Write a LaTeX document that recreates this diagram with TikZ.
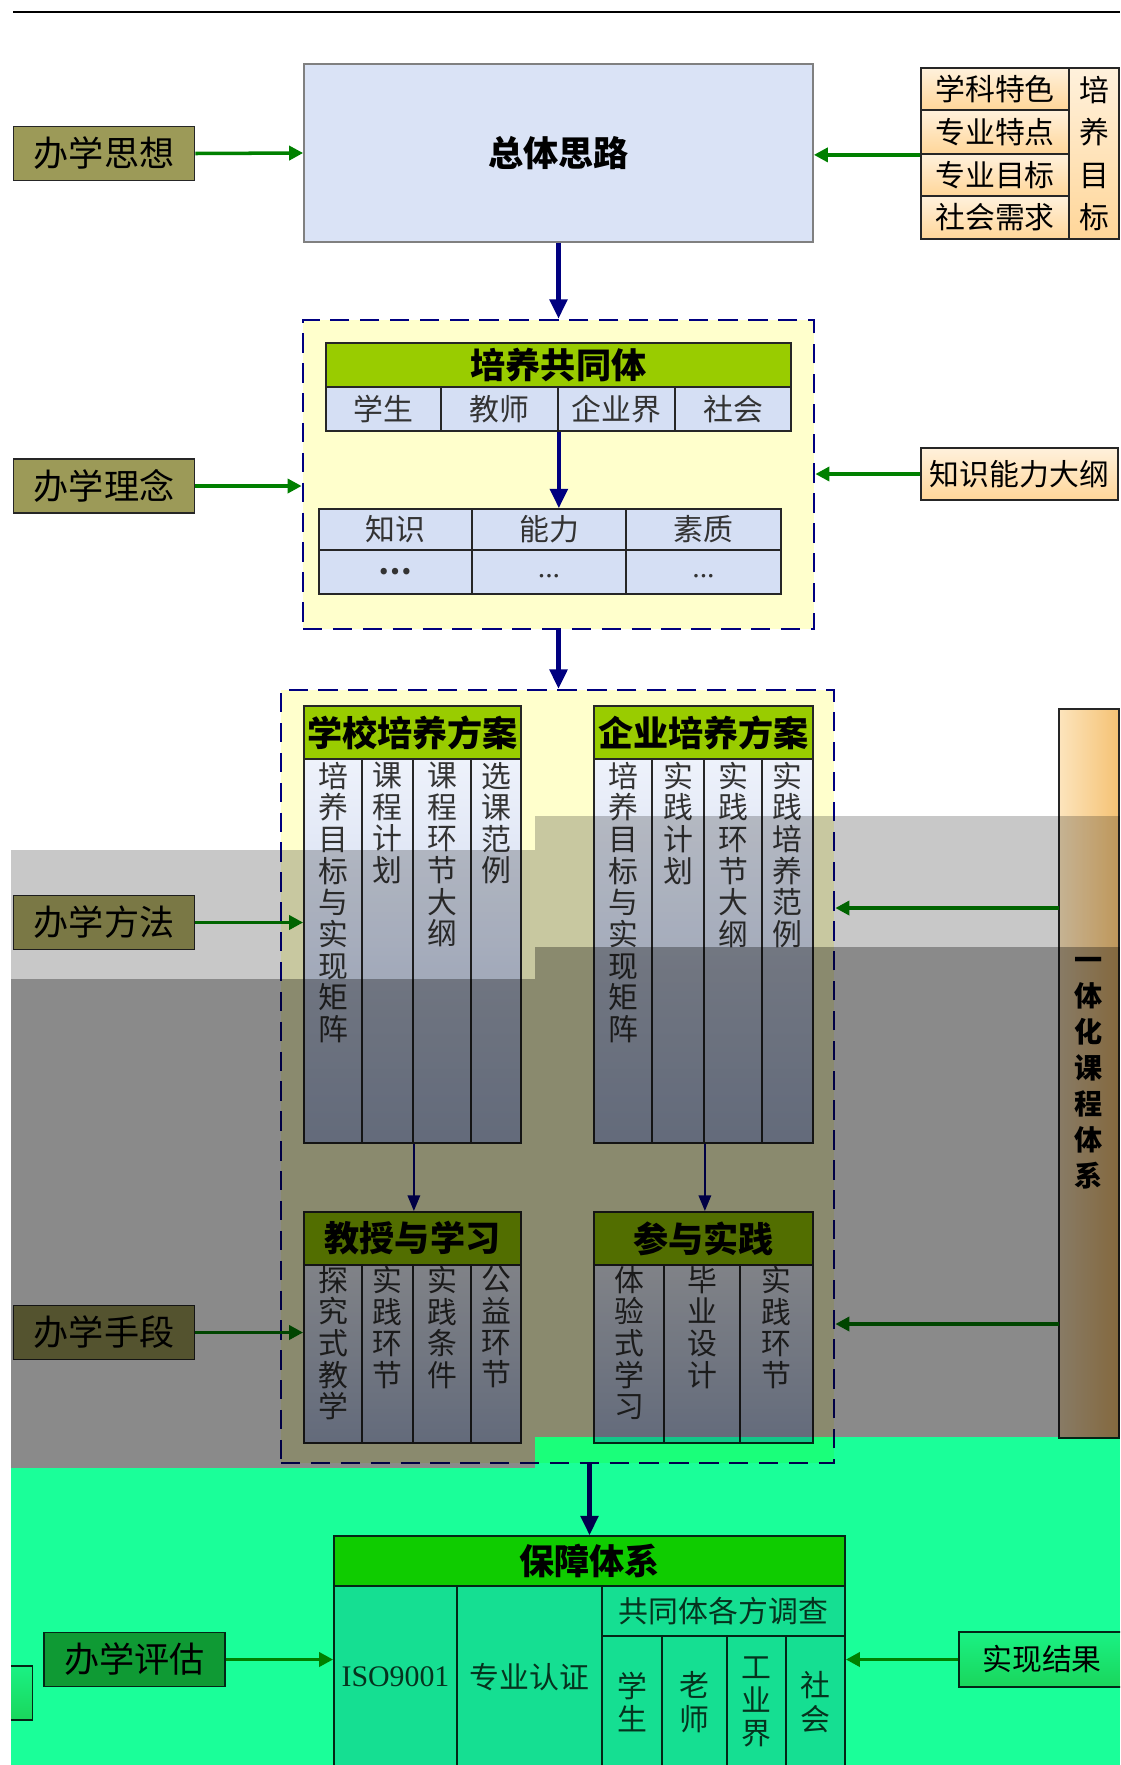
\documentclass[tikz,border=0pt]{standalone}
\usepackage{fontspec}
\setmainfont{Noto Sans CJK SC}
\newfontfamily\latinserif{Liberation Serif}
\usetikzlibrary{arrows.meta}
\XeTeXlinebreaklocale "zh"
\XeTeXlinebreakskip=0pt plus 1pt
\definecolor{olivebox}{HTML}{9C9A58}
\definecolor{topblue}{HTML}{DAE3F6}
\definecolor{cellblue}{HTML}{D5DFF4}
\definecolor{colhi}{HTML}{EEF2FB}
\definecolor{collo}{HTML}{B8C6E4}
\definecolor{hdgreen}{HTML}{99CC00}
\definecolor{paleyellow}{HTML}{FFFFCC}
\definecolor{peachhi}{HTML}{FFF1DC}
\definecolor{peachlo}{HTML}{FFD699}
\definecolor{talll}{HTML}{FCE4BC}
\definecolor{tallr}{HTML}{F5C274}
\definecolor{navyline}{HTML}{000080}
\definecolor{arrowgreen}{HTML}{008000}
\definecolor{bandlight}{RGB}{200,200,200}
\definecolor{banddark}{RGB}{138,138,138}
\definecolor{bandgreen}{RGB}{26,255,153}
\begin{document}
\begin{tikzpicture}[x=0.02cm,y=-0.02cm,
  box/.style={draw=black!85,line width=1pt,inner sep=0pt,align=center},
  side/.style={box,fill=olivebox,minimum width=3.62cm,minimum height=1.08cm,font=\fontsize{20}{22}\selectfont},
  hd/.style={box,fill=hdgreen,font=\bfseries\fontsize{20}{22}\selectfont},
  cell/.style={box,fill=cellblue,text=black!80,font=\fontsize{17}{19}\selectfont},
  col/.style={box,top color=colhi,bottom color=collo},
  vt/.style={text width=21pt,align=center,inner sep=0pt,text=black!80,font=\fontsize{17}{18}\selectfont},
  peach/.style={box,top color=peachhi,bottom color=peachlo,font=\fontsize{17}{19}\selectfont},
  dbox/.style={draw=navyline,line width=1.6pt,dash pattern=on 11pt off 6pt,fill=paleyellow},
  garrow/.style={draw=arrowgreen,line width=2pt,-{Triangle[length=8pt,width=8pt]}},
  barrow/.style={draw=navyline,line width=2.4pt,-{Triangle[length=11pt,width=10pt]}},
  sarrow/.style={draw=navyline,line width=1.4pt,-{Triangle[length=9pt,width=7pt]}}]
\useasboundingbox (0,0) rectangle (1120,1765);
\clip (0,0) rectangle (1120,1765);
% left side boxes
\node[side] (sx) at (104,153.5) {办学思想};
\node[side] (ln) at (104,486) {办学理念};
\node[side] (ff) at (104,922.5) {办学方法};
\node[side] (sd) at (104,1332.5) {办学手段};
\node[side] (pg) at (134.5,1659.5) {办学评估};
% overall idea
\node[box,draw=gray,fill=topblue,minimum width=10.18cm,minimum height=3.56cm,font=\bfseries\fontsize{20}{22}\selectfont] (zt) at (558.5,153) {总体思路};
\node[peach,minimum width=2.96cm,minimum height=0.84cm] (r1) at (995,89) {学科特色};
\node[peach,minimum width=2.96cm,minimum height=0.88cm] (r2) at (995,132) {专业特点};
\node[peach,minimum width=2.96cm,minimum height=0.84cm] (r3) at (995,175) {专业目标};
\node[peach,minimum width=2.96cm,minimum height=0.86cm] (r4) at (995,217.5) {社会需求};
\node[peach,minimum width=1cm,minimum height=3.42cm,text width=21pt,font=\fontsize{17}{24}\selectfont] (mb) at (1094,153.5) {培养目标};
\draw[garrow] (sx.east) -- (zt.west);
\draw[garrow] (r2.south west) -- (zt.east |- r2.south west);
% training community
\node[dbox,minimum width=10.22cm,minimum height=6.18cm] (db1) at (558.5,474.5) {};
\draw[barrow] (zt.south) -- (db1.north);
\node[hd,minimum width=9.3cm,minimum height=0.88cm] (gt) at (558.5,365) {培养共同体};
\node[cell,minimum width=2.3cm,minimum height=0.88cm] (g1) at (383.5,409) {学生};
\node[cell,minimum width=2.34cm,minimum height=0.88cm] (g2) at (499.5,409) {教师};
\node[cell,minimum width=2.34cm,minimum height=0.88cm] (g3) at (616.5,409) {企业界};
\node[cell,minimum width=2.32cm,minimum height=0.88cm] (g4) at (733,409) {社会};
\node[cell,minimum width=3.06cm,minimum height=0.82cm] (k1) at (395.5,529.5) {知识};
\node[cell,minimum width=3.08cm,minimum height=0.82cm] (k2) at (549,529.5) {能力};
\node[cell,minimum width=3.1cm,minimum height=0.82cm] (k3) at (703.5,529.5) {素质};
\node[cell,minimum width=3.06cm,minimum height=0.88cm] (e1) at (395.5,572) {{\bfseries …}};
\node[cell,minimum width=3.08cm,minimum height=0.88cm] (e2) at (549,572) {\raisebox{-0.35em}{\latinserif ...}};
\node[cell,minimum width=3.1cm,minimum height=0.88cm] (e3) at (703.5,572) {\raisebox{-0.35em}{\latinserif ...}};
\draw[barrow] (g2.south east) -- (g2.south east |- k2.north);
\node[peach,minimum width=3.94cm,minimum height=1.04cm] (dg) at (1019.5,474) {知识能力大纲};
\draw[garrow] (ln.east) -- (db1.west |- ln.east);
\draw[garrow] (dg.west) -- (db1.east |- dg.west);
% training plans
\node[dbox,minimum width=11.06cm,minimum height=15.46cm] (db2) at (557.5,1076.5) {};
\draw[barrow] (db1.south) -- (db1.south |- db2.north);
\node[hd,minimum width=4.34cm,minimum height=1.06cm] (xh) at (412.5,732.5) {学校培养方案};
\node[hd,minimum width=4.38cm,minimum height=1.06cm] (qh) at (703.5,732.5) {企业培养方案};
\node[col,minimum width=1.16cm,minimum height=7.68cm] (x1) at (333,951) {};
\node[col,minimum width=1.02cm,minimum height=7.68cm] (x2) at (387.5,951) {};
\node[col,minimum width=1.16cm,minimum height=7.68cm] (x3) at (442,951) {};
\node[col,minimum width=1cm,minimum height=7.68cm] (x4) at (496,951) {};
\node[col,minimum width=1.16cm,minimum height=7.68cm] (q1) at (623,951) {};
\node[col,minimum width=1.04cm,minimum height=7.68cm] (q2) at (678,951) {};
\node[col,minimum width=1.16cm,minimum height=7.68cm] (q3) at (733,951) {};
\node[col,minimum width=1.02cm,minimum height=7.68cm] (q4) at (787.5,951) {};
\node[vt,anchor=north] (x1t) at ([yshift=-2pt]x1.north) {培养目标与实现矩阵};
\node[vt,anchor=north] (x2t) at ([yshift=-2pt]x2.north) {课程计划};
\node[vt,anchor=north] (x3t) at ([yshift=-2pt]x3.north) {课程环节大纲};
\node[vt,anchor=north] (x4t) at ([yshift=-2pt]x4.north) {选课范例};
\node[vt,anchor=north] (q1t) at ([yshift=-2pt]q1.north) {培养目标与实现矩阵};
\node[vt,anchor=north] (q2t) at ([yshift=-2pt]q2.north) {实践计划};
\node[vt,anchor=north] (q3t) at ([yshift=-2pt]q3.north) {实践环节大纲};
\node[vt,anchor=north] (q4t) at ([yshift=-2pt]q4.north) {实践培养范例};
% teaching and practice
\node[hd,minimum width=4.34cm,minimum height=1.06cm] (jh) at (412.5,1238.5) {教授与学习};
\node[hd,minimum width=4.38cm,minimum height=1.06cm] (sj) at (703.5,1238.5) {参与实践};
\draw[sarrow] (x2.south east) -- (x2.south east |- jh.north);
\draw[sarrow] (q2.south east) -- (q2.south east |- sj.north);
\node[col,minimum width=1.16cm,minimum height=3.56cm] (j1) at (333,1354) {};
\node[col,minimum width=1.02cm,minimum height=3.56cm] (j2) at (387.5,1354) {};
\node[col,minimum width=1.16cm,minimum height=3.56cm] (j3) at (442,1354) {};
\node[col,minimum width=1cm,minimum height=3.56cm] (j4) at (496,1354) {};
\node[col,minimum width=1.4cm,minimum height=3.56cm] (s1) at (629,1354) {};
\node[col,minimum width=1.52cm,minimum height=3.56cm] (s2) at (702,1354) {};
\node[col,minimum width=1.46cm,minimum height=3.56cm] (s3) at (776.5,1354) {};
\node[vt,anchor=north] (j1t) at ([yshift=-1pt]j1.north) {探究式教学};
\node[vt,anchor=north] (j2t) at ([yshift=-1pt]j2.north) {实践环节};
\node[vt,anchor=north] (j3t) at ([yshift=-1pt]j3.north) {实践条件};
\node[vt,anchor=north] (j4t) at ([yshift=-1pt]j4.north) {公益环节};
\node[vt,anchor=north] (s1t) at ([yshift=-1pt]s1.north) {体验式学习};
\node[vt,anchor=north] (s2t) at ([yshift=-1pt]s2.north) {毕业设计};
\node[vt,anchor=north] (s3t) at ([yshift=-1pt]s3.north) {实践环节};
\draw[garrow] (ff.east) -- (x1.west |- ff.east);
\draw[garrow] (sd.east) -- (j1.west |- sd.east);
% integrated curriculum
\node[box,left color=talll,right color=tallr,minimum width=1.2cm,minimum height=14.58cm,text width=20pt,font=\bfseries\fontsize{16}{20.5}\selectfont] (yt) at (1089,1073.5) {一体化课程体系};
\coordinate (ya) at (1059,908);
\coordinate (yb) at (1059,1324);
\draw[garrow] (ya) -- (db2.east |- ya);
\draw[garrow] (yb) -- (db2.east |- yb);
% guarantee system
\node[hd,minimum width=10.22cm,minimum height=1cm] (bz) at (589.5,1561) {保障体系};
\draw[barrow] (bz.north |- db2.south) -- (bz.north);
\node[cell,minimum width=2.46cm,minimum height=3.64cm] (i1) at (395.5,1677) {\latinserif ISO9001};
\node[cell,minimum width=2.9cm,minimum height=3.64cm] (i2) at (529.5,1677) {专业认证};
\node[cell,minimum width=4.86cm,minimum height=1cm] (dc) at (723.5,1611) {共同体各方调查};
\node[cell,minimum width=1.2cm,minimum height=2.64cm,text width=21pt] (u1) at (632,1702) {学生};
\node[cell,minimum width=1.3cm,minimum height=2.64cm,text width=21pt] (u2) at (694.5,1702) {老师};
\node[cell,minimum width=1.18cm,minimum height=2.64cm,text width=21pt] (u3) at (756.5,1702) {工业界};
\node[cell,minimum width=1.18cm,minimum height=2.64cm,text width=21pt] (u4) at (815.5,1702) {社会};
\node[peach,minimum width=3.32cm,minimum height=1.1cm] (jg) at (1042,1659.5) {实现结果};
\node[peach,minimum width=1.06cm,minimum height=1.08cm] (pb) at (6,1693) {};
\draw[garrow] (pg.east) -- (i1.west |- pg.east);
\draw[garrow] (jg.west) -- (u4.east |- jg.west);
% tinted bands
\begin{scope}[blend mode=multiply]
\fill[bandlight] (11,850) rectangle (535,979);
\fill[bandlight] (535,816) rectangle (1120,947);
\fill[banddark] (11,979) rectangle (535,1468);
\fill[banddark] (535,947) rectangle (1120,1437);
\fill[bandgreen] (11,1468) rectangle (535,1765);
\fill[bandgreen] (535,1437) rectangle (1120,1765);
\end{scope}
\fill[white] (0,0) rectangle (11,1765);
\draw[line width=1.2pt] (13,12) -- (1120,12);
\end{tikzpicture}
\end{document}
